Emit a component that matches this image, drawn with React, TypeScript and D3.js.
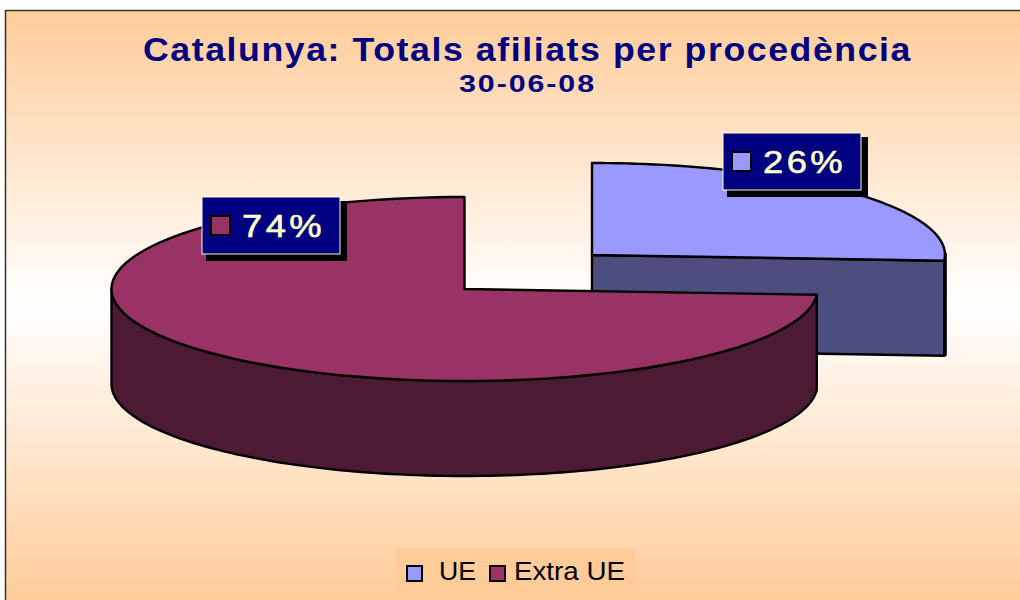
import React from "react";
import * as d3 from "d3";

const categories = ["UE", "Extra UE"];
const values = [26, 74];
const labels = ["26%", "74%"];
const topColors = ["#9999FF", "#993366"];
const sideColors = ["#4D4D80", "#4D1A33"];
const W = 1020, H = 600;
const rx = 353, ry = 92, depth = 95;
const centers = [{ x: 592, y: 255 }, { x: 464.5, y: 289 }];
const labelBoxes = [{ x: 723, y: 133 }, { x: 202, y: 197 }];

const arcs = d3.pie<number>().sort(null)(values);
const lineGen = d3.line<number[]>().x(d => d[0]).y(d => d[1]);
const pt = (c: { x: number; y: number }, a: number, dy = 0): number[] => [c.x + rx * Math.sin(a), c.y - ry * Math.cos(a) + dy];
const angles = (a0: number, a1: number) => d3.range(0, 121).map(i => a0 + ((a1 - a0) * i) / 120);

const topPath = (i: number) => {
  const c = centers[i];
  return lineGen([[c.x, c.y], ...angles(arcs[i].startAngle, arcs[i].endAngle).map(a => pt(c, a))])! + "Z";
};
const sidePath = (i: number) => {
  const c = centers[i];
  const a0 = Math.max(arcs[i].startAngle, Math.PI / 2);
  const a1 = Math.min(arcs[i].endAngle, (3 * Math.PI) / 2);
  const as = angles(a0, a1);
  return lineGen([...as.map(a => pt(c, a)), ...as.slice().reverse().map(a => pt(c, a, depth))])! + "Z";
};
const cutPath = (i: number) => {
  const c = centers[i];
  const e = pt(c, arcs[i].endAngle);
  return lineGen([[c.x, c.y], e, [e[0], e[1] + depth], [c.x, c.y + depth]])! + "Z";
};
const ueEnd = pt(centers[0], arcs[0].endAngle);

export default function App() {
  return (
    <svg width={W} height={H} style={{ position: "absolute", left: 0, top: 0, background: "#fff" }}>
      <defs>
        <linearGradient id="bg" gradientUnits="userSpaceOnUse" x1="0" y1="10" x2="0" y2="600">
          <stop offset="0" stopColor="#FFCC99" />
          <stop offset="0.5" stopColor="#FFFFFF" />
          <stop offset="1" stopColor="#FFCC99" />
        </linearGradient>
      </defs>
      <rect x={5.5} y={10.5} width={1030} height={610} fill="url(#bg)" stroke="#333" strokeWidth={1.5} />
      <text x={143} y={60.5} textLength={769} lengthAdjust="spacingAndGlyphs" fontFamily="'Liberation Sans'" fontWeight="bold" fontSize={34} letterSpacing={1.5} fill="#000080">Catalunya: Totals afiliats per procedència</text>
      <text x={459} y={92} textLength={137} lengthAdjust="spacingAndGlyphs" fontFamily="'Liberation Sans'" fontWeight="bold" fontSize={24} letterSpacing={1.5} fill="#000080">30-06-08</text>

      <g stroke="#000" strokeWidth={2.4} strokeLinejoin="round">
        <path d={sidePath(0)} fill={sideColors[0]} />
        <path d={cutPath(0)} fill={sideColors[0]} />
        <path d={topPath(0)} fill={topColors[0]} />
        <line x1={ueEnd[0] + 1} y1={ueEnd[1] - 8} x2={ueEnd[0] + 1} y2={ueEnd[1] + depth} strokeWidth={3} />
        <path d={sidePath(1)} fill={sideColors[1]} />
        <path d={topPath(1)} fill={topColors[1]} />
      </g>

      {labels.map((l, i) => {
        const b = labelBoxes[i];
        return (
          <g key={l}>
            <rect x={b.x + 4} y={b.y + 4} width={141} height={60} fill="#000" />
            <rect x={b.x} y={b.y} width={138} height={57} fill="#000080" stroke="#FFFFCC" strokeWidth={1} />
            <rect x={b.x + 9} y={b.y + 19} width={19} height={19} fill={topColors[i]} stroke="#000" strokeWidth={2} />
            <text x={b.x + 40} y={b.y + 40} textLength={83} lengthAdjust="spacingAndGlyphs" fontFamily="'Liberation Sans'" fontSize={32} letterSpacing={3} stroke="#FFFFCC" strokeWidth={0.6} fill="#FFFFCC">{l}</text>
          </g>
        );
      })}

      <rect x={396} y={549} width={239} height={44} fill="#FFCC99" />
      {categories.map((c, i) => {
        const sx = [407, 490][i];
        const tx = [439, 514][i];
        const tl = [37, 111][i];
        return (
          <g key={c}>
            <rect x={sx} y={566} width={15} height={15} fill={topColors[i]} stroke="#000" strokeWidth={2} />
            <text x={tx} y={580} textLength={tl} lengthAdjust="spacingAndGlyphs" fontFamily="'Liberation Sans'" fontSize={26} fill="#000">{c}</text>
          </g>
        );
      })}
    </svg>
  );
}
